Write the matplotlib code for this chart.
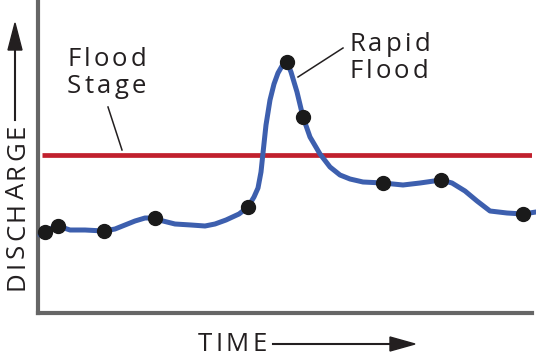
import matplotlib
matplotlib.use("Agg")
import matplotlib.pyplot as plt
from matplotlib.lines import Line2D
from matplotlib import font_manager, ft2font
from matplotlib.font_manager import FontProperties

# Data (arbitrary units: time and discharge)
curve_time = [2, 7, 14, 20, 32, 47, 66, 77, 87, 97, 107, 117, 125, 137, 153, 167, 177, 188, 201, 210,
              216, 220, 223, 225, 228, 232, 236, 240, 244, 249, 253, 259, 265, 272, 282, 292, 302, 312,
              325, 345, 365, 382, 403, 414, 427, 439, 452, 469, 485, 498]
curve_discharge = [78, 81, 85, 87, 83, 83, 82, 84, 88, 92, 95, 95, 92, 89, 88, 87, 89, 93, 99, 106,
                   116, 125, 141, 160, 188, 213, 229, 240, 247, 251, 241, 221, 196, 176, 159, 146, 138,
                   134, 131, 130, 128, 130, 133, 130, 122, 112, 102, 100, 99, 101]
point_time = [7, 20, 66, 117, 210, 249, 265, 345, 403, 485]
point_discharge = [81, 87, 82, 95, 106, 251, 196, 130, 133, 99]
flood_stage = 158

W, H = 536, 357
fig = plt.figure(figsize=(W / 100, H / 100), dpi=100)
ax = fig.add_axes([38 / W, (H - 313) / H, (532 - 38) / W, 313 / H])
ax.set_xlim(0, 494)
ax.set_ylim(0, 313)

for s in ["top", "right"]:
    ax.spines[s].set_visible(False)
for s in ["left", "bottom"]:
    ax.spines[s].set_color("#666666")
    ax.spines[s].set_linewidth(3.0)
ax.set_xticks([])
ax.set_yticks([])

ax.plot([4, 494], [flood_stage, flood_stage], color="#c1202d", lw=3.4, solid_capstyle="butt", zorder=2)
ax.plot(curve_time, curve_discharge, color="#3d5fae", lw=3.6, solid_joinstyle="round",
        solid_capstyle="round", clip_on=False, zorder=3)
ax.plot(point_time, point_discharge, "o", color="#1a1a1a", ms=10, clip_on=False, zorder=4)

FONT = "Open Sans"
tc = "#231f20"
SIZE = 18.5
TRACK = 3.2  # extra pixels between letters

_path = font_manager.findfont(FontProperties(family=FONT))
_ft = ft2font.FT2Font(_path)
_ft.set_size(SIZE, 100)


def adv(c):
    g = _ft.load_char(ord(c))
    return g.linearHoriAdvance / 65536.0


def fx(px):
    return px / W


def fy(py):
    return 1 - py / H


def tracked(px, py, s, vertical=False):
    """Draw text with letter spacing. (px, py) = start of baseline in pixels (top-left origin)."""
    pos = 0.0
    for c in s:
        if vertical:
            fig.text(fx(px), fy(py - pos), c, fontsize=SIZE, family=FONT, color=tc,
                     rotation=90, rotation_mode="anchor", ha="left", va="baseline")
        else:
            fig.text(fx(px + pos), fy(py), c, fontsize=SIZE, family=FONT, color=tc,
                     ha="left", va="baseline")
        pos += adv(c) + TRACK


tracked(67, 66, "Flood")
tracked(67, 93, "Stage")
fig.add_artist(Line2D([fx(108), fx(122)], [fy(107), fy(150)], transform=fig.transFigure,
                      color=tc, lw=1.1))

tracked(349, 51, "Rapid")
tracked(349, 78, "Flood")
fig.add_artist(Line2D([fx(343), fx(298)], [fy(48), fy(77)], transform=fig.transFigure,
                      color=tc, lw=1.1))

tracked(24, 290, "DISCHARGE", vertical=True)
fig.add_artist(Line2D([fx(15), fx(15)], [fy(120), fy(48)], transform=fig.transFigure,
                      color=tc, lw=1.5))
fig.add_artist(plt.Polygon([[fx(8), fy(50)], [fx(22), fy(50)], [fx(15), fy(23)]],
                           closed=True, transform=fig.transFigure, color=tc))

tracked(198, 351, "TIME")
fig.add_artist(Line2D([fx(273), fx(392)], [fy(344), fy(344)], transform=fig.transFigure,
                      color=tc, lw=1.5))
fig.add_artist(plt.Polygon([[fx(390), fy(337)], [fx(390), fy(351)], [fx(415), fy(344)]],
                           closed=True, transform=fig.transFigure, color=tc))

fig.savefig("out.png", dpi=100)
